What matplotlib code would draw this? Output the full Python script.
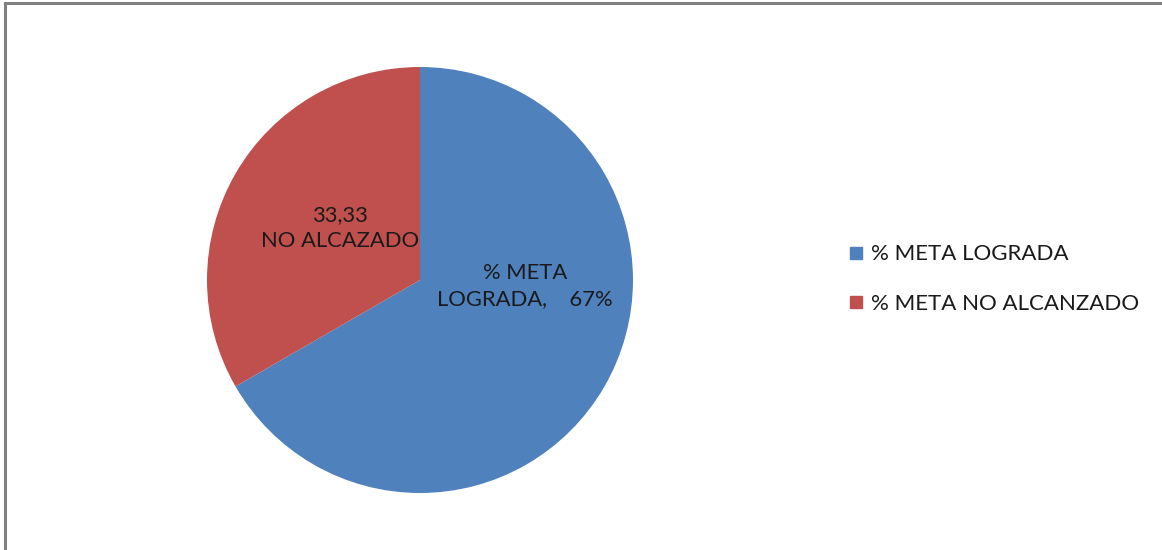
import matplotlib.pyplot as plt
from matplotlib.lines import Line2D

etiquetas = ['% META LOGRADA', '% META NO ALCANZADO']
valores = [66.67, 33.33]
colores = ['#4F81BD', '#C0504D']
textos = ['% META\nLOGRADA,    67%', '33,33\nNO ALCAZADO']

plt.rcParams['font.family'] = ['Lato', 'DejaVu Sans']

W, H = 1162, 550
fig = plt.figure(figsize=(W / 100, H / 100), dpi=100, facecolor='white')

# marco gris (solo arriba e izquierda visibles)
fig.add_artist(Line2D([5 / W, 5 / W], [0, 1 - 3 / H], transform=fig.transFigure,
                      color='#808080', lw=2.2))
fig.add_artist(Line2D([5 / W, 1], [1 - 3 / H, 1 - 3 / H], transform=fig.transFigure,
                      color='#808080', lw=2.2))

# pie: centro (420, 280), radio 213 px
ax = fig.add_axes([207 / W, (H - 493) / H, 426 / W, 426 / H])
ax.pie(valores, colors=colores, startangle=90, counterclock=False,
       wedgeprops=dict(linewidth=0))
ax.set_xlim(-1, 1)
ax.set_ylim(-1, 1)
ax.set_aspect('auto')
ax.axis('off')

ax.text(0.493, -0.03, textos[0], ha='center', va='center', fontsize=15.8,
        color='#1a1a1a', linespacing=1.4)
ax.text(-0.376, 0.244, textos[1], ha='center', va='center', fontsize=15.8,
        color='#1a1a1a', linespacing=1.4)

handles = [Line2D([], [], marker='s', linestyle='none', markersize=9,
                  markerfacecolor=c, markeredgecolor=c) for c in colores]
fig.legend(handles, etiquetas, loc='center left',
           bbox_to_anchor=(825 / W, 1 - 279 / H), frameon=False,
           fontsize=16, handletextpad=0.15, labelspacing=1.32,
           handlelength=1.0, labelcolor='#1a1a1a')

fig.savefig('out.png', dpi=100)
